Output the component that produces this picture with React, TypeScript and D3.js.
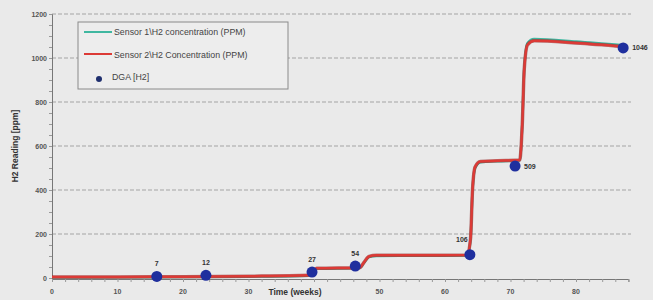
import { useEffect, useRef } from 'react';
import * as d3 from 'd3';

// sensor 2 (red) readings, weeks vs ppm
const sensor2Weeks = [0, 10, 20, 30, 39.2, 39.8, 40.4, 47, 47.6, 48.4, 49.5, 56, 63.4, 63.9, 64.2, 64.6, 65.4, 68, 71.4, 71.8, 72.1, 72.6, 73.6, 80, 87.2];
const sensor2Ppm = [4, 5, 6, 8, 12, 28, 44, 47, 70, 98, 103, 103, 104, 180, 400, 505, 530, 533, 536, 700, 950, 1060, 1078, 1068, 1052];

// sensor 1 (teal) readings, almost on top of sensor 2
const sensor1Weeks = [0, 10, 20, 30, 39.2, 39.8, 40.4, 47, 47.6, 48.4, 49.5, 56, 63.4, 63.9, 64.2, 64.6, 65.4, 68, 71.4, 71.8, 72.1, 72.6, 73.6, 80, 87.2];
const sensor1Ppm = [2, 3, 4, 6, 10, 25, 42, 45, 68, 95, 100, 101, 102, 175, 395, 500, 526, 531, 534, 700, 955, 1068, 1086, 1075, 1058];

// DGA lab samples
const dgaWeeks = [16, 23.5, 39.7, 46.3, 63.8, 70.7, 87.2];
const dgaPpm = [7, 12, 27, 54, 106, 509, 1046];
const dgaLabels = ['7', '12', '27', '54', '106', '509', '1046'];

const xTickValues = [0, 10, 20, 30, 50, 60, 70, 80];
const yTickValues = [0, 200, 400, 600, 800, 1000, 1200];

const legendLabels = [
    'Sensor 1\\H2 concentration (PPM)',
    'Sensor 2\\H2 Concentration (PPM)',
    'DGA [H2]',
];

export default function App() {
    const ref = useRef<SVGSVGElement>(null);

    useEffect(() => {
        const width = 653;
        const height = 300;
        const svg = d3.select(ref.current);
        svg.selectAll('*').remove();

        const x = d3.scaleLinear().domain([0, 88]).range([52, 628.4]);
        const y = d3.scaleLinear().domain([0, 1200]).range([278, 14]);
        const font = 'Liberation Sans, Arial, sans-serif';

        svg.append('rect').attr('width', width).attr('height', height).attr('fill', '#eaeaea');

        // gridlines
        svg.append('g')
            .selectAll('line')
            .data(yTickValues.filter(d => d > 0))
            .join('line')
            .attr('x1', x(0))
            .attr('x2', 631)
            .attr('y1', d => y(d))
            .attr('y2', d => y(d))
            .attr('stroke', '#a4a4a4')
            .attr('stroke-width', 1)
            .attr('stroke-dasharray', '4,2');

        // y axis
        svg.append('g')
            .attr('transform', `translate(${x(0)},0)`)
            .call(d3.axisLeft(y).tickValues(d3.range(0, 1201, 50)).tickSize(3).tickFormat(() => ''))
            .call(g => g.select('.domain').attr('stroke', '#777'))
            .call(g => g.selectAll('.tick line').attr('stroke', '#999'));
        svg.append('g')
            .selectAll('text')
            .data(yTickValues)
            .join('text')
            .attr('x', 47)
            .attr('y', d => y(d) + 2.5)
            .attr('text-anchor', 'end')
            .attr('font-family', font)
            .attr('font-size', 7)
            .attr('font-weight', 'bold')
            .attr('fill', '#555')
            .text(d => d);

        // x axis
        svg.append('g')
            .attr('transform', `translate(0,${y(0) + 1})`)
            .call(d3.axisBottom(x).tickValues(d3.range(0, 89, 2)).tickSize(3).tickFormat(() => ''))
            .call(g => g.select('.domain').attr('stroke', '#777'))
            .call(g => g.selectAll('.tick line').attr('stroke', '#999'));
        svg.append('g')
            .selectAll('text')
            .data(xTickValues)
            .join('text')
            .attr('x', d => x(d))
            .attr('y', 294)
            .attr('text-anchor', 'middle')
            .attr('font-family', font)
            .attr('font-size', 7)
            .attr('font-weight', 'bold')
            .attr('fill', '#555')
            .text(d => d);

        svg.append('text')
            .attr('x', 295)
            .attr('y', 295)
            .attr('text-anchor', 'middle')
            .attr('font-family', font)
            .attr('font-size', 8.5)
            .attr('font-weight', 'bold')
            .attr('fill', '#333')
            .text('Time (weeks)');

        svg.append('text')
            .attr('transform', 'translate(18,146) rotate(-90)')
            .attr('text-anchor', 'middle')
            .attr('font-family', font)
            .attr('font-size', 8.5)
            .attr('font-weight', 'bold')
            .attr('fill', '#333')
            .text('H2 Reading [ppm]');

        // sensor lines
        const line = d3.line<[number, number]>()
            .x(d => x(d[0]))
            .y(d => y(d[1]))
            .curve(d3.curveMonotoneX);

        const s1 = sensor1Weeks.map((w, i) => [w, sensor1Ppm[i]] as [number, number]);
        const s2 = sensor2Weeks.map((w, i) => [w, sensor2Ppm[i]] as [number, number]);

        svg.append('path')
            .attr('d', line(s1))
            .attr('fill', 'none')
            .attr('stroke', '#3fb7a0')
            .attr('stroke-width', 2.5);
        svg.append('path')
            .attr('d', line(s2))
            .attr('fill', 'none')
            .attr('stroke', '#8e2a2a')
            .attr('stroke-width', 3.5)
            .attr('stroke-opacity', 0.6);
        svg.append('path')
            .attr('d', line(s2))
            .attr('fill', 'none')
            .attr('stroke', '#dc3a36')
            .attr('stroke-width', 2.5);

        // DGA points
        const pts = dgaWeeks.map((w, i) => ({ w, v: dgaPpm[i], label: dgaLabels[i], i }));
        svg.append('g')
            .selectAll('circle')
            .data(pts)
            .join('circle')
            .attr('cx', d => x(d.w))
            .attr('cy', d => y(d.v))
            .attr('r', 5.5)
            .attr('fill', '#1f2f9e');

        // labels: first five above, last two to the right
        svg.append('g')
            .selectAll('text')
            .data(pts)
            .join('text')
            .attr('x', d => (d.i >= 5 ? x(d.w) + 9 : x(d.w) - (d.i === 4 ? 8 : 0)))
            .attr('y', d => (d.i >= 5 ? y(d.v) + 2.5 : y(d.v) - (d.i === 4 ? 13 : 10)))
            .attr('text-anchor', d => (d.i >= 5 ? 'start' : 'middle'))
            .attr('font-family', font)
            .attr('font-size', 7)
            .attr('font-weight', 'bold')
            .attr('fill', '#333')
            .text(d => d.label);

        // legend
        const lg = svg.append('g').attr('transform', 'translate(78,22)');
        lg.append('rect')
            .attr('width', 210)
            .attr('height', 67)
            .attr('fill', '#ededed')
            .attr('stroke', '#8a8a8a');
        const legendColors = ['#3fb7a0', '#dc3a36'];
        legendColors.forEach((c, i) => {
            lg.append('line')
                .attr('x1', 6).attr('x2', 34)
                .attr('y1', 10 + i * 22).attr('y2', 10 + i * 22)
                .attr('stroke', c)
                .attr('stroke-width', 2);
        });
        lg.append('circle').attr('cx', 21).attr('cy', 57).attr('r', 3).attr('fill', '#1f2f6e');
        lg.selectAll('text')
            .data(legendLabels)
            .join('text')
            .attr('x', (d, i) => (i === 2 ? 34 : 36))
            .attr('y', (d, i) => 13 + i * 22.5)
            .attr('font-family', font)
            .attr('font-size', 8.8)
            .attr('fill', '#444')
            .text(d => d);
    }, []);

    return (
        <svg
            ref={ref}
            width={653}
            height={300}
            style={{ position: 'fixed', left: 0, top: 0, display: 'block' }}
        />
    );
}
